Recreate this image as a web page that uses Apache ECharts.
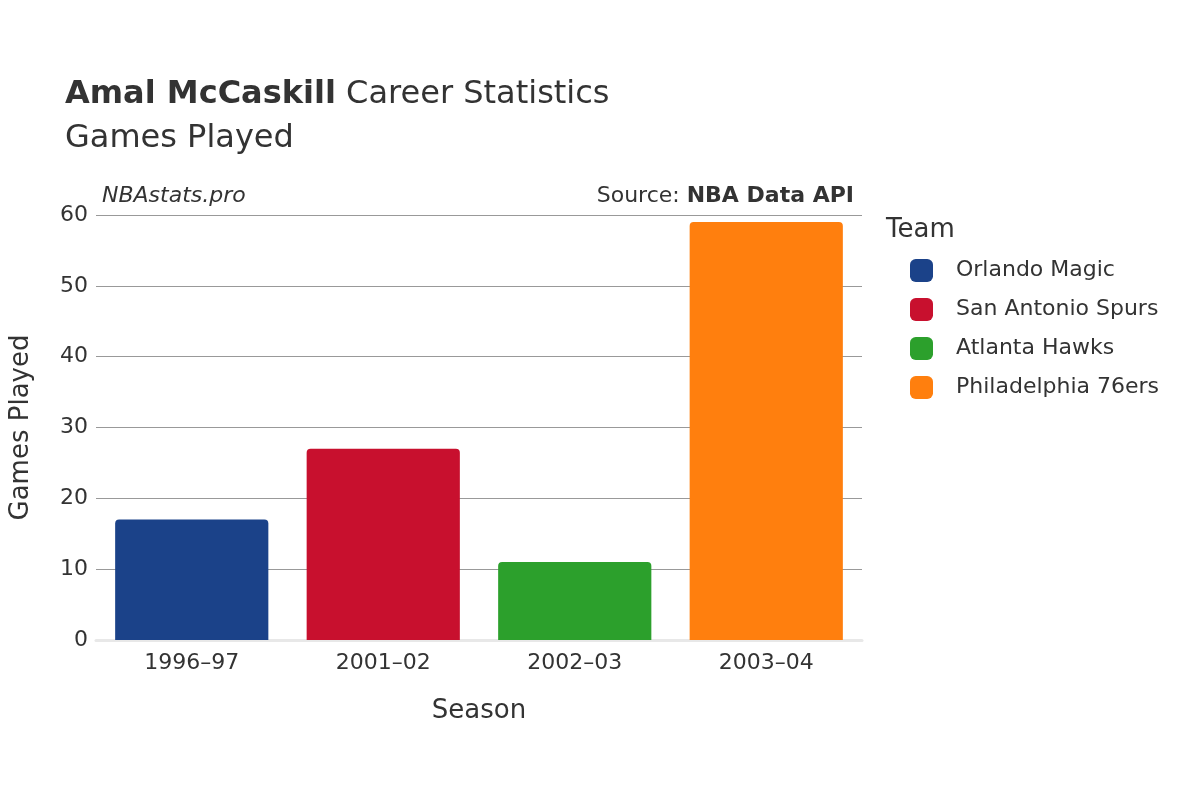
<!DOCTYPE html>
<html>
<head>
<meta charset="utf-8">
<script src="https://cdn.jsdelivr.net/npm/echarts@6/dist/echarts.min.js"></script>
<style>html,body{margin:0;padding:0;background:#fff}#chart{width:1200px;height:800px}</style>
</head>
<body>
<div id="chart"></div>
<script>
const seasons = ['1996–97', '2001–02', '2002–03', '2003–04'];
const teams = ['Orlando Magic', 'San Antonio Spurs', 'Atlanta Hawks', 'Philadelphia 76ers'];
const gamesPlayed = [17, 27, 11, 59];
const teamColors = ['#1b4289', '#c8102e', '#2ca02c', '#ff7f0e'];

const font = 'DejaVu Sans';
const chart = echarts.init(document.getElementById('chart'));

const series = teams.map((team, i) => ({
    name: team,
    type: 'bar',
    stack: 'all',
    barWidth: '80%',
    itemStyle: {color: teamColors[i], borderRadius: [4, 4, 0, 0]},
    data: seasons.map((s, j) => (j === i ? gamesPlayed[i] : null))
}));

chart.setOption({
    textStyle: {fontFamily: font},
    animation: false,
    title: [
        {
            text: '{b|Amal McCaskill} Career Statistics\nGames Played',
            left: 60, top: 68,
            textStyle: {
                fontFamily: font, fontSize: 32, color: '#333', fontWeight: 'normal', lineHeight: 44,
                rich: {b: {fontFamily: font, fontSize: 32, fontWeight: 'bold', color: '#333'}}
            }
        },
        {
            text: 'NBAstats.pro', left: 97, top: 180,
            textStyle: {fontFamily: font, fontSize: 22, fontStyle: 'italic', fontWeight: 'normal', color: '#333'}
        },
        {
            text: 'Source: {b|NBA Data API}', right: 341, top: 180,
            textStyle: {fontFamily: font, fontSize: 22, fontWeight: 'normal', color: '#333',
                rich: {b: {fontFamily: font, fontSize: 22, fontWeight: 'bold', color: '#333'}}}
        },
        {
            text: 'Team', left: 881, top: 212,
            textStyle: {fontFamily: font, fontSize: 26, fontWeight: 'normal', color: '#333'}
        }
    ],
    legend: {
        orient: 'vertical', left: 905, top: 254, itemGap: 16,
        itemWidth: 23, itemHeight: 23, icon: 'roundRect',
        textStyle: {fontFamily: font, fontSize: 22, color: '#333', padding: [0, 0, 0, 18]},
        data: teams
    },
    grid: {left: 95, right: 338, top: 215, bottom: 160},
    xAxis: {
        type: 'category', data: seasons,
        name: 'Season', nameLocation: 'middle', nameGap: 58,
        nameTextStyle: {fontSize: 26, color: '#333'},
        axisLine: {show: true, lineStyle: {color: '#e8e8e8', width: 3}},
        axisTick: {show: false},
        axisLabel: {fontSize: 22, color: '#333', margin: 12}
    },
    yAxis: {
        type: 'value', min: 0, max: 60, interval: 10,
        name: 'Games Played', nameLocation: 'middle', nameGap: 62,
        nameTextStyle: {fontSize: 26, color: '#333'},
        axisLabel: {fontSize: 22, color: '#333', margin: 8},
        splitLine: {lineStyle: {color: '#999', width: 1}}
    },
    series: series
});
</script>
</body>
</html>
